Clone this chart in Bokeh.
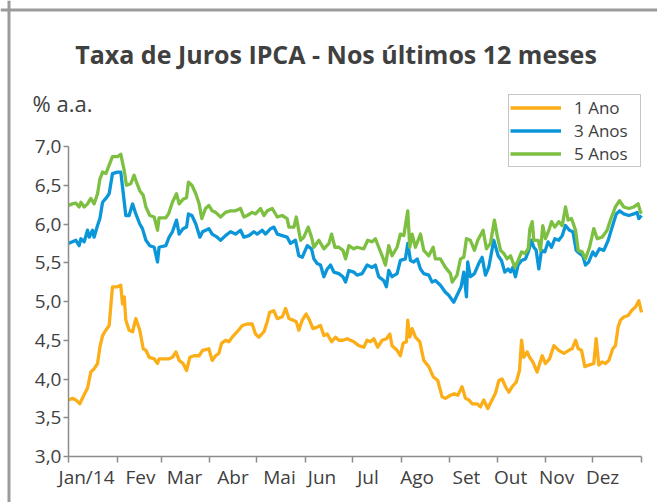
from bokeh.plotting import figure
from bokeh.models import (Range1d, FixedTicker, CustomJSTickFormatter, Label, Legend,
                          LegendItem, Span)
from bokeh.embed import file_html
from bokeh.resources import INLINE

# ---------------- data ----------------
meses = ["Jan/14", "Fev", "Mar", "Abr", "Mai", "Jun", "Jul", "Ago", "Set", "Out", "Nov", "Dez"]
inicio_mes = [0, 31, 59, 90, 120, 151, 181, 212, 243, 273, 304, 334, 365]
pos_rotulos = [11.5, 45.9, 73.9, 104.8, 134.4, 161.5, 190.8, 222.1, 253.5, 281.6, 310.9, 340.2]
y_ticks = [3.0, 3.5, 4.0, 4.5, 5.0, 5.5, 6.0, 6.5, 7.0]

ano1_dias = [0.0, 2.5, 4.7, 7.2, 9.3, 12.1, 14.2, 16.3, 18.5, 20.0, 21.7, 23.8, 25.9, 28.0, 31.2, 33.3, 34.4, 35.5, 36.5, 38.6,
             40.8, 42.9, 45.4, 47.6, 49.3, 51.4, 54.6, 56.7, 57.7, 62.0, 64.1, 66.2, 68.4, 70.5, 73.0, 75.2, 77.3, 80.0, 83.2, 85.4,
             89.4, 91.5, 93.7, 95.8, 97.5, 100.0, 102.2, 104.3, 107.5, 110.7, 113.8, 117.0, 119.1, 121.3, 124.5, 126.6, 128.1, 130.8, 133.0, 136.1,
             138.3, 140.4, 142.9, 145.1, 146.7, 148.9, 151.4, 153.5, 155.7, 158.4, 160.5, 162.7, 164.8, 167.6, 170.1, 172.2, 174.8, 177.5,
             181.7, 184.9, 188.1, 190.2, 192.3, 194.5, 197.0, 199.8, 202.5, 204.7, 206.1, 209.3, 211.4, 213.1, 215.3, 216.1, 217.4, 218.9, 221.0, 223.8,
             226.3, 229.5, 232.3, 235.2, 238.0, 240.1, 243.3, 245.8, 248.0, 250.7, 252.9, 255.0, 257.1, 260.3, 262.4, 264.5, 267.1, 269.8,
             272.0, 274.1, 276.2, 278.4, 280.5, 282.6, 285.2, 287.3, 288.6, 290.0, 292.2, 293.7, 295.8, 298.5, 301.7, 303.8, 306.4, 309.2, 312.3, 315.5,
             318.7, 320.8, 323.0, 324.7, 326.8, 328.9, 331.4, 334.6, 336.1, 337.8, 339.9, 342.1, 344.2, 346.7, 348.4, 350.1, 351.6, 353.7, 356.5, 358.6,
             361.2, 363.3, 365.0]
ano1_taxa = [3.73, 3.75, 3.73, 3.68, 3.77, 3.88, 4.09, 4.13, 4.20, 4.41, 4.56, 4.63, 4.69, 5.19, 5.19, 5.21, 4.97, 5.06, 4.76, 4.63,
             4.61, 4.78, 4.63, 4.39, 4.37, 4.28, 4.26, 4.20, 4.26, 4.26, 4.26, 4.28, 4.35, 4.24, 4.20, 4.11, 4.28, 4.30, 4.30, 4.37,
             4.39, 4.24, 4.30, 4.33, 4.46, 4.50, 4.48, 4.54, 4.61, 4.69, 4.71, 4.71, 4.58, 4.54, 4.61, 4.74, 4.86, 4.88, 4.78, 4.80,
             4.91, 4.78, 4.76, 4.74, 4.63, 4.76, 4.84, 4.76, 4.65, 4.67, 4.69, 4.56, 4.58, 4.48, 4.54, 4.50, 4.50, 4.52,
             4.48, 4.43, 4.41, 4.50, 4.48, 4.52, 4.41, 4.50, 4.52, 4.58, 4.43, 4.37, 4.30, 4.46, 4.48, 4.76, 4.54, 4.65, 4.54, 4.48,
             4.24, 4.16, 4.03, 3.98, 3.77, 3.75, 3.79, 3.81, 3.79, 3.90, 3.75, 3.73, 3.68, 3.68, 3.64, 3.73, 3.62, 3.73,
             3.82, 3.98, 4.00, 3.90, 3.83, 3.90, 3.96, 4.11, 4.50, 4.28, 4.35, 4.28, 4.22, 4.09, 4.30, 4.20, 4.26, 4.43, 4.37, 4.33,
             4.37, 4.39, 4.50, 4.39, 4.37, 4.16, 4.18, 4.20, 4.52, 4.18, 4.22, 4.20, 4.24, 4.39, 4.43, 4.67, 4.76, 4.80, 4.82, 4.88,
             4.93, 5.01, 4.86]

ano3_dias = [0.0, 2.5, 4.7, 6.8, 7.9, 10.0, 12.1, 13.2, 15.3, 16.3, 18.5, 20.0, 21.7, 23.8, 25.9, 28.0, 31.2, 33.3, 34.4, 36.5,
             38.6, 40.8, 42.9, 45.4, 47.1, 49.3, 51.8, 54.6, 56.7, 57.7, 62.0, 64.1, 66.2, 68.8, 70.5, 73.0, 75.2, 76.4, 78.6, 81.1,
             83.7, 85.4,
             89.4, 91.5, 94.7, 96.9, 100.0, 103.2, 106.4, 109.6, 111.7, 114.9, 118.1, 120.2, 123.4, 125.5, 128.7, 130.8, 133.0, 136.1, 139.3, 141.4,
             144.6, 146.7, 148.9, 152.1, 154.8, 156.3, 158.4, 160.5, 162.7, 164.8, 166.9, 169.0, 172.2, 174.8, 176.5, 178.6,
             181.7, 183.8, 187.0, 190.2, 193.4, 195.5, 197.6, 200.8, 202.5, 204.0, 206.1, 209.3, 211.4, 214.6, 216.1, 217.8, 219.9, 222.1, 224.2, 226.3,
             229.5, 231.6, 233.7, 236.9, 240.1, 242.2, 245.4, 247.5, 250.1, 251.8, 253.5, 254.3, 256.0, 258.6, 261.3, 263.5, 265.6, 267.7, 270.9,
             273.7, 275.8, 277.9, 280.1, 281.6, 283.0, 284.7, 286.4, 288.6, 291.1, 293.2, 294.9, 296.4, 297.9, 299.6, 301.3, 303.4, 305.5, 307.7, 309.8,
             312.3, 314.5, 316.6, 319.1, 321.3, 323.4, 325.5, 327.6, 329.3, 331.4, 334.0, 335.7, 338.2, 341.0, 343.8, 346.3, 348.9, 351.0, 353.7, 356.9,
             360.1, 362.2, 363.3, 365.0]
ano3_taxa = [5.75, 5.77, 5.79, 5.72, 5.81, 5.77, 5.92, 5.83, 5.92, 5.83, 5.98, 6.07, 6.28, 6.33, 6.39, 6.65, 6.67, 6.67, 6.48, 6.11,
             6.11, 6.26, 6.13, 6.00, 5.94, 5.79, 5.72, 5.70, 5.51, 5.70, 5.72, 5.83, 5.90, 6.05, 5.87, 5.94, 5.96, 6.13, 6.11, 6.00,
             5.83, 5.90,
             5.94, 5.87, 5.83, 5.79, 5.85, 5.90, 5.87, 5.92, 5.83, 5.85, 5.90, 5.87, 5.92, 5.87, 5.94, 5.96, 5.87, 5.85, 5.83, 5.75,
             5.79, 5.59, 5.57, 5.72, 5.68, 5.55, 5.49, 5.47, 5.32, 5.42, 5.47, 5.38, 5.36, 5.32, 5.25, 5.40,
             5.38, 5.34, 5.36, 5.47, 5.44, 5.47, 5.32, 5.27, 5.19, 5.40, 5.32, 5.36, 5.53, 5.55, 5.75, 5.53, 5.51, 5.55, 5.42, 5.36,
             5.34, 5.25, 5.27, 5.21, 5.12, 5.08, 4.99, 5.08, 5.19, 5.38, 5.06, 5.51, 5.32, 5.36, 5.49, 5.57, 5.34, 5.44, 5.79,
             5.59, 5.53, 5.38, 5.42, 5.38, 5.44, 5.32, 5.47, 5.53, 5.55, 5.66, 5.79, 5.70, 5.66, 5.42, 5.66, 5.64, 5.77, 5.70, 5.81,
             5.79, 5.85, 5.98, 5.92, 5.90, 5.66, 5.62, 5.59, 5.47, 5.51, 5.64, 5.59, 5.68, 5.66, 5.79, 5.96, 6.13, 6.17, 6.13, 6.11,
             6.13, 6.15, 6.07, 6.11]

ano5_dias = [0.0, 2.5, 4.7, 6.8, 7.9, 10.0, 12.1, 14.2, 16.3, 18.5, 20.0, 21.7, 23.8, 25.9, 28.0, 31.2, 33.3, 35.5, 36.9, 39.7,
             41.8, 43.3, 45.4, 47.6, 49.3, 51.8, 54.6, 56.7, 57.7, 62.0, 63.7, 66.2, 68.8, 70.5, 73.0, 75.2, 76.4, 78.6, 81.1, 83.2,
             84.9,
             87.3, 89.4, 91.5, 93.7, 96.9, 100.0, 103.2, 106.4, 109.6, 111.7, 113.8, 117.0, 119.1, 122.3, 124.5, 126.6, 129.8, 133.0, 136.1, 139.3,
             140.4, 143.6, 145.1, 147.8, 149.9, 152.7, 154.8, 156.3, 159.5, 162.7, 165.9, 167.6, 169.7, 172.2, 174.8, 176.5, 178.6,
             181.7, 183.8, 188.1, 190.6, 193.4, 195.5, 197.6, 199.8, 201.9, 204.0, 206.1, 209.3, 211.4, 213.6, 216.1, 217.4, 218.9, 221.0, 224.2, 226.3,
             229.5, 232.3, 233.7, 236.9, 240.1, 243.3, 244.4, 247.5, 249.7, 251.8, 253.5, 256.0, 258.6, 260.7, 264.1, 266.2, 268.8, 271.3,
             273.1, 275.2, 277.3, 279.4, 281.6, 283.0, 284.3, 286.4, 288.6, 290.7, 292.8, 293.9, 295.4, 296.4, 299.2, 300.7, 302.1, 303.8, 306.0, 307.7,
             309.8, 312.3, 314.5, 316.6, 318.3, 320.4, 323.0, 324.7, 327.2, 329.3, 331.9, 334.6, 336.8, 339.9, 343.1, 345.2, 348.4, 351.0, 353.7, 356.9,
             360.1, 362.9, 364.4, 365.0]
ano5_taxa = [6.24, 6.26, 6.27, 6.22, 6.28, 6.22, 6.26, 6.33, 6.26, 6.39, 6.58, 6.67, 6.65, 6.76, 6.87, 6.87, 6.90, 6.69, 6.50, 6.52,
             6.63, 6.54, 6.43, 6.37, 6.22, 6.11, 6.09, 5.92, 6.08, 6.08, 6.13, 6.28, 6.39, 6.26, 6.32, 6.34, 6.54, 6.50, 6.39, 6.26,
             6.07,
             6.20, 6.24, 6.17, 6.15, 6.09, 6.15, 6.17, 6.17, 6.20, 6.09, 6.11, 6.15, 6.13, 6.20, 6.11, 6.17, 6.20, 6.09, 6.11, 6.07,
             5.96, 5.96, 6.09, 5.79, 5.83, 5.96, 5.83, 5.70, 5.79, 5.68, 5.75, 5.87, 5.70, 5.70, 5.66, 5.55, 5.72,
             5.68, 5.70, 5.68, 5.79, 5.77, 5.81, 5.70, 5.59, 5.47, 5.72, 5.59, 5.70, 5.87, 5.85, 6.17, 5.70, 5.87, 5.70, 5.87, 5.66,
             5.59, 5.70, 5.55, 5.55, 5.44, 5.36, 5.25, 5.34, 5.55, 5.57, 5.81, 5.79, 5.66, 5.79, 5.92, 5.68, 5.75, 6.05,
             5.85, 5.66, 5.62, 5.55, 5.59, 5.51, 5.44, 5.53, 5.64, 5.62, 5.68, 5.94, 6.03, 5.79, 5.79, 5.66, 5.98, 5.81, 5.92, 6.03,
             5.96, 6.03, 5.98, 6.22, 6.05, 6.07, 5.92, 5.66, 5.64, 5.55, 5.70, 5.94, 5.81, 5.83, 5.92, 6.05, 6.22, 6.30, 6.22, 6.20,
             6.22, 6.26, 6.15, 6.17]

# ---------------- figure ----------------
TXT = "#404040"
AXC = "#8c8c8c"
FONT = "Open Sans"

# the frame covers the whole canvas; axes are pinned at the data origin
p = figure(width=657, height=502,
           x_range=Range1d(-43.315, 375.19), y_range=Range1d(2.4065, 8.8839),
           min_border=0, output_backend="svg", toolbar_location=None)
p.outline_line_color = None
p.grid.visible = False
p.background_fill_color = "white"
p.border_fill_color = "white"

r1 = p.line(ano1_dias, ano1_taxa, line_color="#FBAE17", line_width=3.3, line_join="round")
r3 = p.line(ano3_dias, ano3_taxa, line_color="#0B96D9", line_width=3.3, line_join="round")
r5 = p.line(ano5_dias, ano5_taxa, line_color="#7CBF41", line_width=3.3, line_join="round")

# x axis
xa = p.xaxis[0]
xa.fixed_location = 3.0
xa.bounds = (0, 365)
xa.ticker = FixedTicker(ticks=pos_rotulos, minor_ticks=inicio_mes)
xa.formatter = CustomJSTickFormatter(args=dict(labels=meses), code="return labels[index];")
xa.major_tick_out = 0
xa.major_tick_in = 0
xa.minor_tick_out = 6
xa.minor_tick_in = 0
xa.minor_tick_line_color = AXC
xa.minor_tick_line_width = 1.5
xa.axis_line_color = AXC
xa.axis_line_width = 1.5
xa.major_label_text_font = FONT
xa.major_label_text_font_size = "19px"
xa.major_label_text_color = TXT
xa.major_label_standoff = 1

# y axis
ya = p.yaxis[0]
ya.fixed_location = 0
ya.bounds = (3.0, 7.0)
ya.ticker = FixedTicker(ticks=y_ticks)
ya.formatter = CustomJSTickFormatter(code="return tick.toFixed(1).replace('.', ',');")
ya.major_tick_out = 5
ya.major_tick_in = 0
ya.minor_tick_out = 0
ya.minor_tick_in = 0
ya.major_tick_line_color = AXC
ya.major_tick_line_width = 1.5
ya.axis_line_color = AXC
ya.axis_line_width = 1.5
ya.major_label_text_font = FONT
ya.major_label_text_font_size = "19px"
ya.major_label_text_color = TXT
ya.major_label_standoff = 2

# outer frame (left and top edges of the panel)
p.add_layout(Span(location=-37.90, dimension="height", line_color="#9b9b9b", line_width=3))
p.add_layout(Span(location=8.7613, dimension="width", line_color="#9b9b9b", line_width=3))

# title and unit label
p.add_layout(Label(x=170.4, y=8.200, text="Taxa de Juros IPCA - Nos últimos 12 meses",
                   text_font=FONT, text_font_style="bold", text_font_size="25px",
                   text_color=TXT, text_align="center", text_baseline="alphabetic"))
p.add_layout(Label(x=-22.9, y=7.555, text="% a.a.",
                   text_font=FONT, text_font_size="22px",
                   text_color=TXT, text_align="left", text_baseline="alphabetic"))

legend = Legend(items=[LegendItem(label="1 Ano", renderers=[r1]),
                       LegendItem(label="3 Anos", renderers=[r3]),
                       LegendItem(label="5 Anos", renderers=[r5])],
                location=(508, 335), orientation="vertical",
                padding=1, spacing=0, margin=0,
                label_height=19, glyph_height=19, glyph_width=51,
                label_standoff=13, label_width=65,
                label_text_font=FONT, label_text_font_size="17px", label_text_color=TXT,
                border_line_color=AXC, border_line_width=1,
                background_fill_color="white", background_fill_alpha=1.0)
p.add_layout(legend)

open("out.html", "w").write(file_html(p, INLINE))
